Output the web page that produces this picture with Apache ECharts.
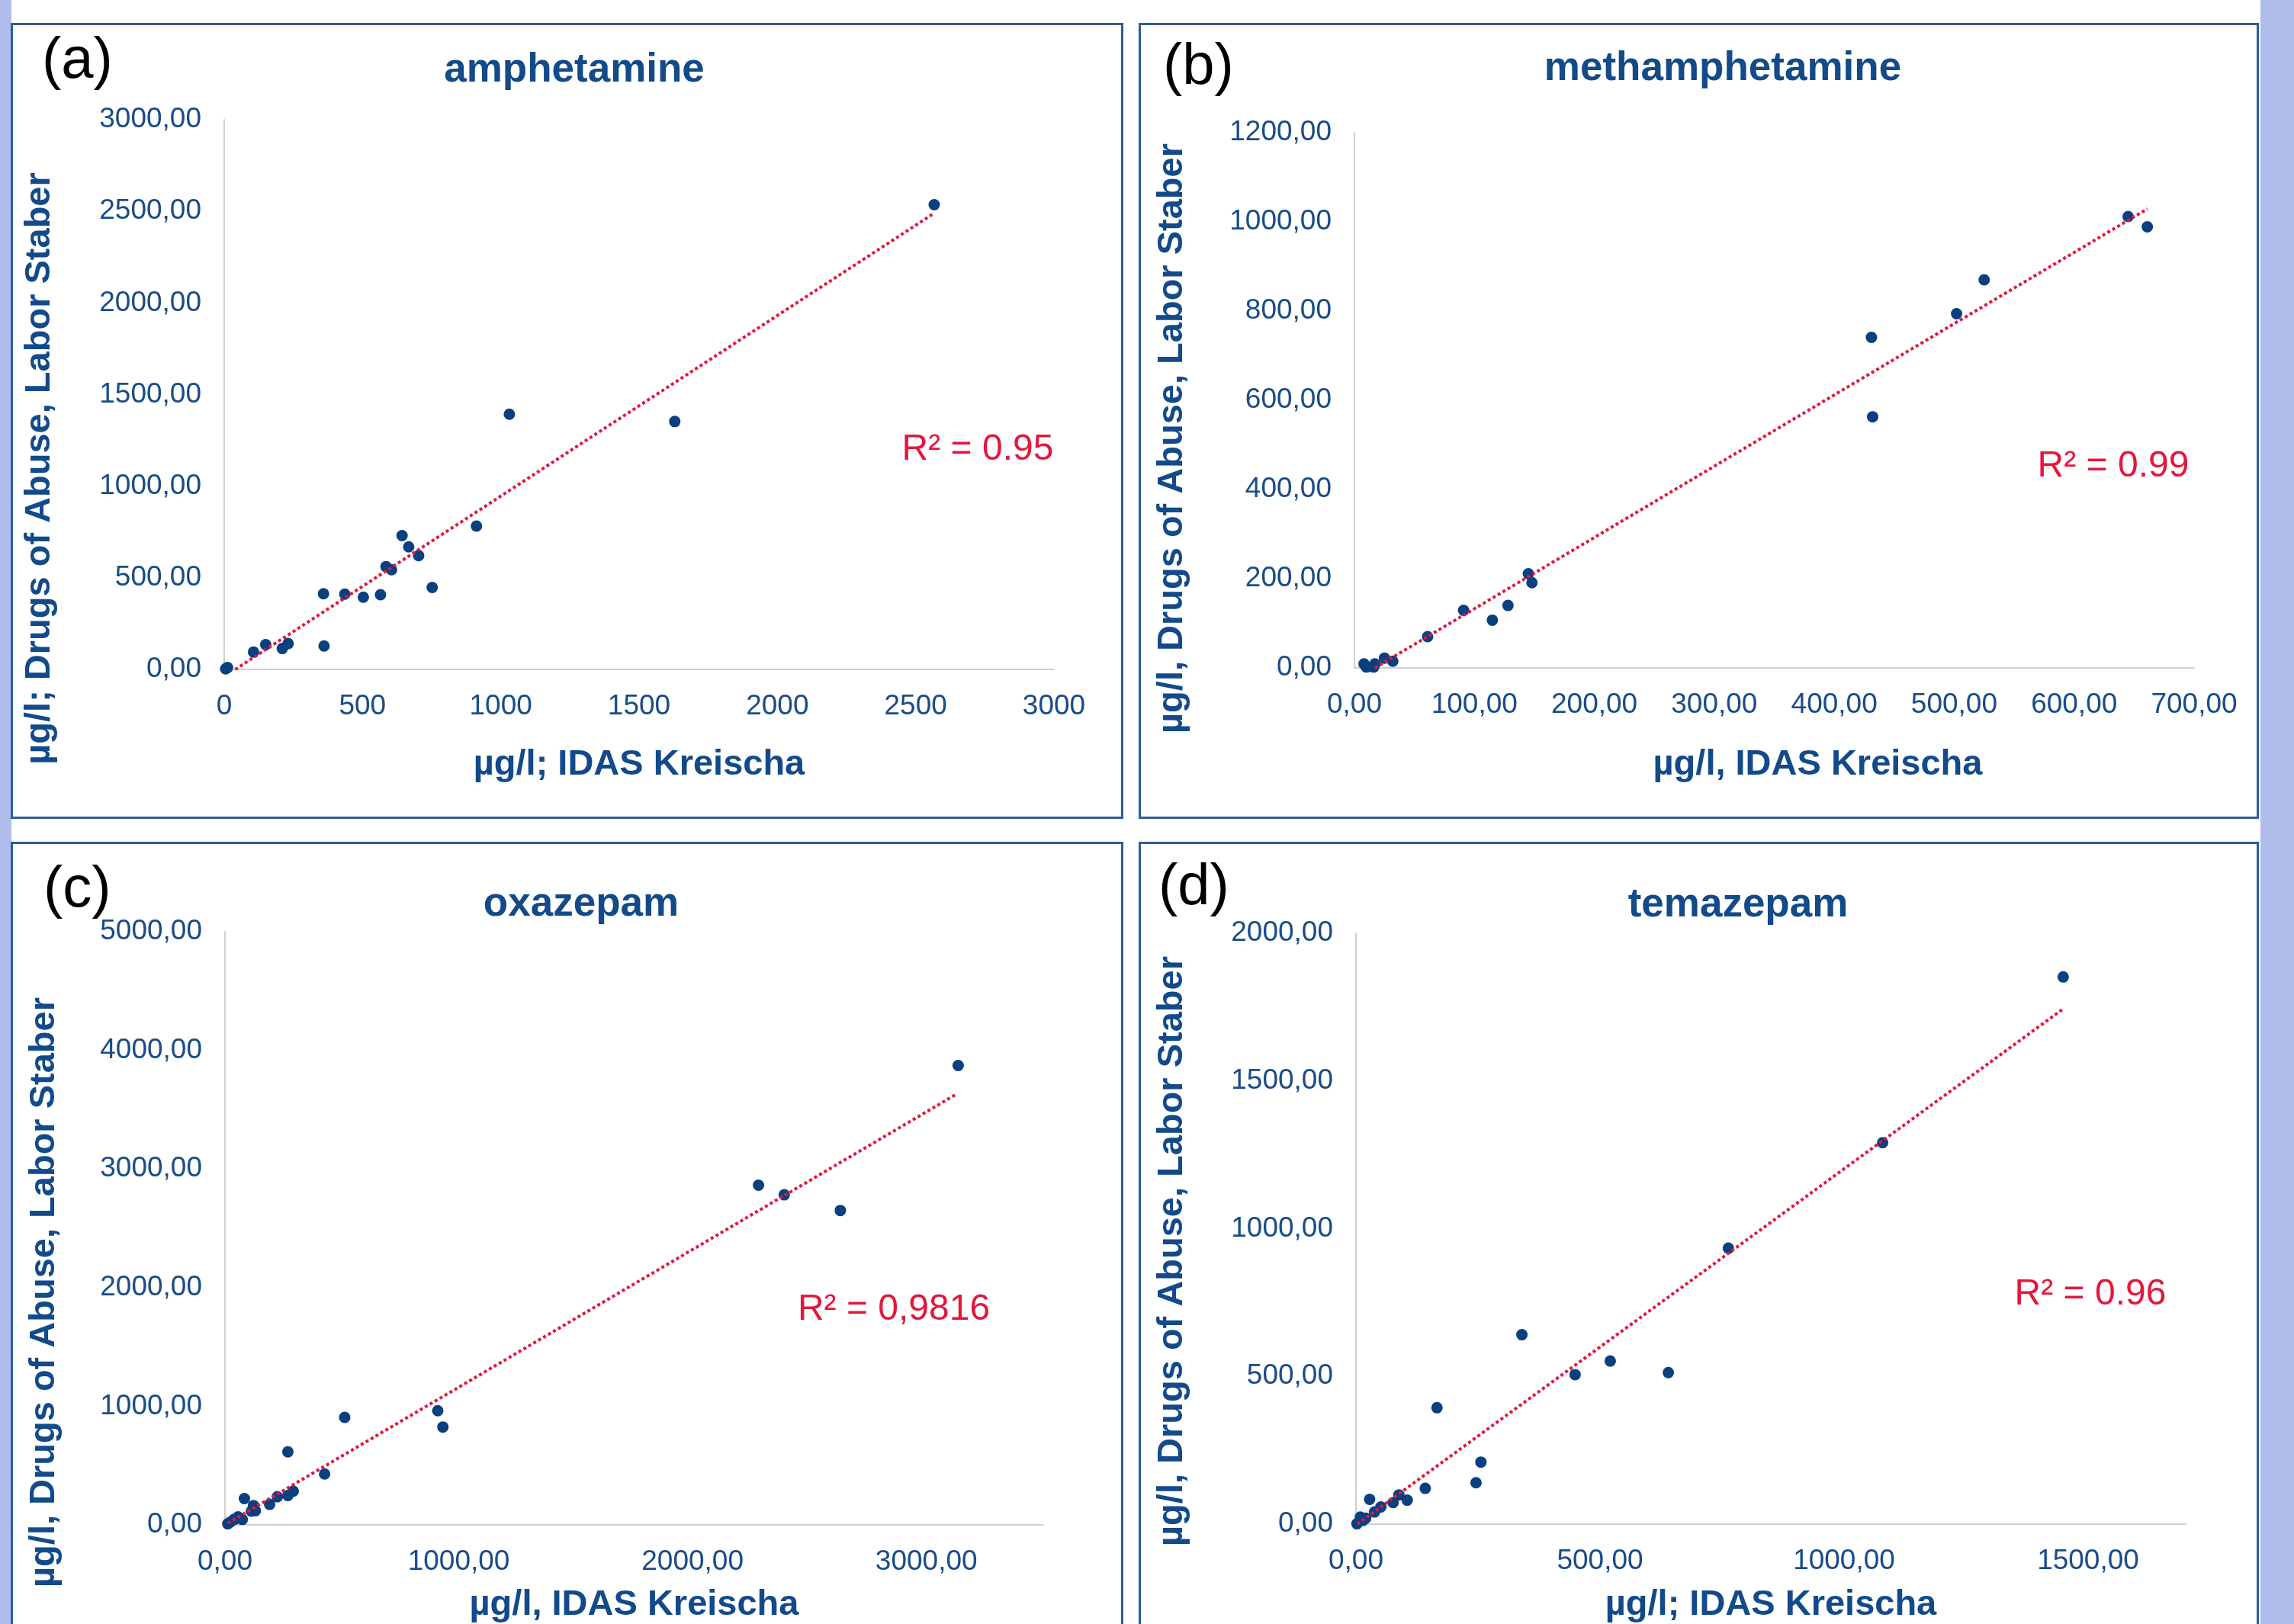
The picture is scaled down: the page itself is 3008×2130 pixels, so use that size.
<!DOCTYPE html>
<html>
<head>
<meta charset="utf-8">
<script src="https://cdn.jsdelivr.net/npm/echarts@6/dist/echarts.min.js"></script>
<style>
html,body{margin:0;padding:0;background:#fff;}
#chart{width:3008px;height:2130px;}
</style>
</head>
<body>
<div id="chart"></div>
<script>
// ---------- DATA ----------
const panelLetters = ['(a)', '(b)', '(c)', '(d)'];
const titles = ['amphetamine', 'methamphetamine', 'oxazepam', 'temazepam'];
const xNames = ['µg/l; IDAS Kreischa', 'µg/l, IDAS Kreischa', 'µg/l, IDAS Kreischa', 'µg/l; IDAS Kreischa'];
const yNames = ['µg/l; Drugs of Abuse, Labor Staber', 'µg/l, Drugs of Abuse, Labor Staber', 'µg/l, Drugs of Abuse, Labor Staber', 'µg/l, Drugs of Abuse, Labor Staber'];
const r2Labels = ['R² = 0.95', 'R² = 0.99', 'R² = 0,9816', 'R² = 0.96'];

// amphetamine
const ampX = [5, 12, 106, 150, 210, 231, 359, 361, 436, 503, 565, 585, 605, 643, 667, 703, 752, 912, 1031, 1629, 2567];
const ampY = [3, 10, 95, 135, 114, 141, 413, 128, 411, 394, 408, 561, 544, 730, 669, 621, 447, 782, 1393, 1353, 2536];
const ampTrend = [[40, 0], [2567, 2490]];
// methamphetamine
const methX = [8, 10, 16, 17, 25, 32, 61, 91, 115, 128, 145, 148, 431, 432, 502, 525, 645, 661];
const methY = [9, 2, 2, 9, 22, 15, 70, 129, 107, 140, 211, 191, 741, 563, 794, 870, 1012, 989];
const methTrend = [[17, 0], [661, 1029]];
// oxazepam
const oxaX = [12, 23, 39, 56, 74, 83, 113, 122, 130, 191, 224, 269, 269, 292, 426, 512, 910, 932, 2282, 2392, 2632, 3136];
const oxaY = [9, 24, 46, 67, 46, 222, 116, 163, 120, 173, 237, 248, 616, 284, 429, 906, 962, 825, 2863, 2782, 2650, 3872];
const oxaTrend = [[12, 14], [3127, 3629]];
// temazepam
const temX = [2, 9, 14, 20, 28, 38, 51, 76, 88, 105, 142, 166, 246, 256, 340, 449, 521, 640, 763, 1079, 1449];
const temY = [1, 24, 12, 20, 84, 41, 58, 73, 99, 81, 121, 394, 140, 210, 641, 506, 552, 513, 934, 1291, 1852];
const temTrend = [[3, 0], [1449, 1744]];

// tick labels
const xTicksA = ['0', '500', '1000', '1500', '2000', '2500', '3000'];
const yTicksA = ['0,00', '500,00', '1000,00', '1500,00', '2000,00', '2500,00', '3000,00'];
const xTicksB = ['0,00', '100,00', '200,00', '300,00', '400,00', '500,00', '600,00', '700,00'];
const yTicksB = ['0,00', '200,00', '400,00', '600,00', '800,00', '1000,00', '1200,00'];
const xTicksC = ['0,00', '1000,00', '2000,00', '3000,00'];
const yTicksC = ['0,00', '1000,00', '2000,00', '3000,00', '4000,00', '5000,00'];
const xTicksD = ['0,00', '500,00', '1000,00', '1500,00'];
const yTicksD = ['0,00', '500,00', '1000,00', '1500,00', '2000,00'];

// ---------- STYLE / LAYOUT ----------
const FONT = '"Liberation Sans", Arial, sans-serif';
const NAVY = '#124a8a';
const TICK = '#1a4c88';
const DOT = '#0a3f80';
const RED = '#e3173c';
const AXIS = '#d0d0d0';

const grids = [
  {left: 294, top: 157, width: 1088, height: 721},
  {left: 1776, top: 174, width: 1101, height: 702},
  {left: 295, top: 1222, width: 1073, height: 783},
  {left: 1778, top: 1224, width: 1088, height: 785}
];
const xAxisCfg = [
  {max: 3000, interval: 500, ticks: xTicksA, gap: 102, pad: 0},
  {max: 700, interval: 100, ticks: xTicksB, gap: 104, pad: 114},
  {max: 3500, interval: 1000, ticks: xTicksC, gap: 82, pad: 0},
  {max: 1700, interval: 500, ticks: xTicksD, gap: 83, pad: 0}
];
const yAxisCfg = [
  {max: 3000, interval: 500, ticks: yTicksA, gap: 218, pad: 194},
  {max: 1200, interval: 200, ticks: yTicksB, gap: 215, pad: 100},
  {max: 5000, interval: 1000, ticks: yTicksC, gap: 213, pad: 168},
  {max: 2000, interval: 500, ticks: yTicksD, gap: 217, pad: 59}
];
const scatterData = [[ampX, ampY], [methX, methY], [oxaX, oxaY], [temX, temY]];
const trends = [ampTrend, methTrend, oxaTrend, temTrend];

function labelFmt(ticks, interval) {
  return function (v) {
    const i = Math.round(v / interval);
    if (Math.abs(v - i * interval) > 1e-6) return '';
    return ticks[i] !== undefined ? ticks[i] : '';
  };
}

const xAxes = xAxisCfg.map((c, i) => ({
  type: 'value', gridIndex: i, min: 0, max: c.max, interval: c.interval,
  name: xNames[i], nameLocation: 'middle', nameGap: c.gap,
  nameTextStyle: {fontFamily: FONT, fontSize: 47, fontWeight: 'bold', color: NAVY, padding: [0, 0, 0, c.pad]},
  axisLine: {show: true, lineStyle: {color: AXIS, width: 2}},
  axisTick: {show: false}, splitLine: {show: false},
  axisLabel: {fontFamily: FONT, fontSize: 37, color: TICK, margin: 30, formatter: labelFmt(c.ticks, c.interval), showMaxLabel: true}
}));
const yAxes = yAxisCfg.map((c, i) => ({
  type: 'value', gridIndex: i, min: 0, max: c.max, interval: c.interval,
  name: yNames[i], nameLocation: 'middle', nameGap: c.gap,
  nameTextStyle: {fontFamily: FONT, fontSize: 47, fontWeight: 'bold', color: NAVY, padding: [0, c.pad, 0, 0]},
  axisLine: {show: true, lineStyle: {color: AXIS, width: 2}},
  axisTick: {show: false}, splitLine: {show: false},
  axisLabel: {fontFamily: FONT, fontSize: 37, color: TICK, margin: 30, formatter: labelFmt(c.ticks, c.interval)}
}));

const series = [];
scatterData.forEach((d, i) => {
  series.push({
    type: 'scatter', xAxisIndex: i, yAxisIndex: i, symbolSize: 15, z: 2,
    itemStyle: {color: DOT, opacity: 1},
    data: d[0].map((x, k) => [x, d[1][k]])
  });
});
trends.forEach((t, i) => {
  series.push({
    type: 'line', xAxisIndex: i, yAxisIndex: i, symbol: 'none', z: 3, silent: true,
    lineStyle: {color: RED, width: 4, type: [4, 3.5]},
    data: t
  });
});

const titleCfg = [
  {x: 753, y: 92}, {x: 2259, y: 90}, {x: 762, y: 1186}, {x: 2279, y: 1187}
];
const title = titleCfg.map((p, i) => ({
  text: titles[i], left: p.x, top: p.y, textAlign: 'center', textVerticalAlign: 'middle', padding: 0,
  textStyle: {fontFamily: FONT, fontSize: 53, fontWeight: 'bold', color: NAVY}
}));

const letterPos = [{x: 55, y: 81}, {x: 1525, y: 89}, {x: 57, y: 1168}, {x: 1519, y: 1165}];
const r2Pos = [{x: 1282, y: 590}, {x: 2771, y: 612}, {x: 1172, y: 1718}, {x: 2741, y: 1698}];

const graphic = [
  {type: 'rect', shape: {x: 0, y: 0, width: 15, height: 2130}, style: {fill: '#b0bdea'}, z: -10},
  {type: 'rect', shape: {x: 2964, y: 0, width: 44, height: 2130}, style: {fill: '#b0bdea'}, z: -10},
  {type: 'rect', shape: {x: 15.5, y: 31.5, width: 1456, height: 1041}, style: {fill: null, stroke: '#2f5c98', lineWidth: 3}, z: -5},
  {type: 'rect', shape: {x: 1494.5, y: 31.5, width: 1466, height: 1041}, style: {fill: null, stroke: '#2f5c98', lineWidth: 3}, z: -5},
  {type: 'rect', shape: {x: 15.5, y: 1105.5, width: 1456, height: 1100}, style: {fill: null, stroke: '#2f5c98', lineWidth: 3}, z: -5},
  {type: 'rect', shape: {x: 1494.5, y: 1105.5, width: 1466, height: 1100}, style: {fill: null, stroke: '#2f5c98', lineWidth: 3}, z: -5}
];
letterPos.forEach((p, i) => graphic.push({
  type: 'text', x: p.x, y: p.y, z: 10,
  style: {text: panelLetters[i], fill: '#000', font: '76px ' + FONT, textAlign: 'left', textVerticalAlign: 'middle'}
}));
r2Pos.forEach((p, i) => graphic.push({
  type: 'text', x: p.x, y: p.y, z: 10,
  style: {text: r2Labels[i], fill: RED, font: '48px ' + FONT, textAlign: 'center', textVerticalAlign: 'middle'}
}));

const chart = echarts.init(document.getElementById('chart'), null, {renderer: 'canvas'});
chart.setOption({
  backgroundColor: '#ffffff',
  animation: false,
  title: title,
  grid: grids.map(g => Object.assign({containLabel: false}, g)),
  xAxis: xAxes,
  yAxis: yAxes,
  series: series,
  graphic: graphic
});
</script>
</body>
</html>
